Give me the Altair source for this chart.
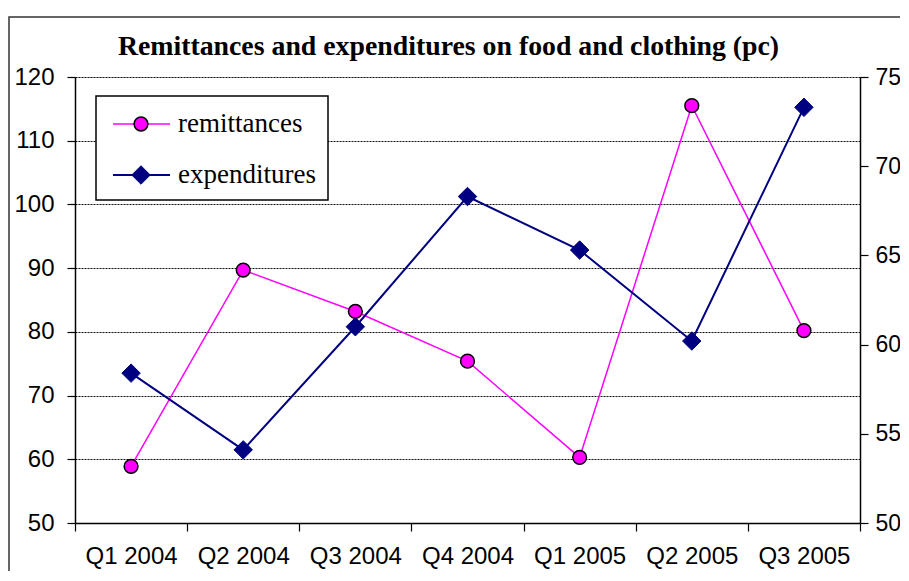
import altair as alt
import pandas as pd

quarters = ["Q1 2004", "Q2 2004", "Q3 2004", "Q4 2004", "Q1 2005", "Q2 2005", "Q3 2005"]
remittances = [58.9, 89.7, 83.2, 75.4, 60.3, 115.5, 80.2]
expenditures = [58.4, 54.1, 61.0, 68.3, 65.3, 60.2, 73.3]
series_names = ["remittances", "expenditures"]
left_ticks = [50, 60, 70, 80, 90, 100, 110, 120]
right_ticks = [50, 55, 60, 65, 70, 75]
title_text = "Remittances and expenditures on food and clothing (pc)"

df = pd.DataFrame({"quarter": quarters, "remittances": remittances, "expenditures": expenditures})
legend_df = pd.DataFrame({"name": series_names})

MAG = "#FF00FF"
NAVY = "#000080"
SANS = "Liberation Sans"
SERIF = "Liberation Serif"

x_enc = alt.X(
    "quarter:N", sort=quarters, title=None,
    scale=alt.Scale(paddingInner=0, paddingOuter=0),
    axis=alt.Axis(labelAngle=0, labelFont=SANS, labelFontSize=24, labelColor="black",
                  labelPadding=13, tickSize=8, tickColor="black", tickWidth=1.2,
                  domainColor="black", domainWidth=1.5, tickBand="extent", grid=False),
)

y_left = alt.Y(
    "remittances:Q", title=None,
    scale=alt.Scale(domain=[50, 120], nice=False, zero=False),
    axis=alt.Axis(values=left_ticks, labelFont=SANS, labelFontSize=24, labelColor="black",
                  labelPadding=13, tickSize=8, tickColor="black", tickWidth=1.2,
                  domainColor="black", domainWidth=1.5, grid=True, gridColor="#111111",
                  gridDash=[2, 1], gridWidth=1),
)

y_right = alt.Y(
    "expenditures:Q", title=None,
    scale=alt.Scale(domain=[50, 75], nice=False, zero=False),
    axis=alt.Axis(values=right_ticks, orient="right", labelFont=SANS, labelFontSize=23,
                  labelColor="black", labelPadding=7, tickSize=8, tickColor="black",
                  tickWidth=1.2, domainColor="black", domainWidth=1.5, grid=False),
)

base = alt.Chart(df)

left_layer = alt.layer(
    base.mark_line(color=MAG, strokeWidth=1.5).encode(x=x_enc, y=y_left),
    base.mark_point(shape="circle", filled=True, fill=MAG, stroke="black", strokeWidth=1.5,
                    size=190, opacity=1).encode(x=x_enc, y=y_left),
)

right_layer = alt.layer(
    base.mark_line(color=NAVY, strokeWidth=2).encode(x=x_enc, y=y_right),
    base.mark_point(shape="diamond", filled=True, fill=NAVY, stroke=NAVY, strokeWidth=1,
                    size=340, opacity=1).encode(x=x_enc, y=y_right),
)

lg = alt.Chart(legend_df)
first = alt.datum.name == series_names[0]
second = alt.datum.name == series_names[1]

legend_box = lg.mark_rect(fill="white", stroke="black", strokeWidth=1.5).encode(
    x=alt.value(21), x2=alt.value(253), y=alt.value(19), y2=alt.value(123)
).transform_filter(first)

legend_rule_r = lg.mark_rule(color=MAG, strokeWidth=1.5).encode(
    x=alt.value(38), x2=alt.value(95), y=alt.value(47)
).transform_filter(first)
legend_pt_r = lg.mark_point(shape="circle", filled=True, fill=MAG, stroke="black",
                            strokeWidth=1.5, size=190, opacity=1).encode(
    x=alt.value(66), y=alt.value(47)
).transform_filter(first)
legend_txt_r = lg.mark_text(font=SERIF, fontSize=27, align="left", baseline="middle",
                            color="black").encode(
    x=alt.value(103), y=alt.value(47), text="name:N"
).transform_filter(first)

legend_rule_e = lg.mark_rule(color=NAVY, strokeWidth=2).encode(
    x=alt.value(38), x2=alt.value(95), y=alt.value(98)
).transform_filter(second)
legend_pt_e = lg.mark_point(shape="diamond", filled=True, fill=NAVY, stroke=NAVY,
                            strokeWidth=1, size=340, opacity=1).encode(
    x=alt.value(66), y=alt.value(98)
).transform_filter(second)
legend_txt_e = lg.mark_text(font=SERIF, fontSize=27, align="left", baseline="middle",
                            color="black").encode(
    x=alt.value(103), y=alt.value(98), text="name:N"
).transform_filter(second)

outer_border = lg.mark_rect(fill=None, stroke="#333333", strokeWidth=1.5).encode(
    x=alt.value(-66), x2=alt.value(900), y=alt.value(-60), y2=alt.value(600)
).transform_filter(first)

title_mark = lg.mark_text(text=title_text, font=SERIF, fontSize=27.8, fontWeight="bold",
                          align="center", baseline="alphabetic", color="black").encode(
    x=alt.value(373.5), y=alt.value(-22)
).transform_filter(first)

legend_layer = alt.layer(outer_border, title_mark, legend_box, legend_rule_r, legend_pt_r,
                         legend_txt_r, legend_rule_e, legend_pt_e, legend_txt_e)

chart = alt.layer(left_layer, right_layer, legend_layer).resolve_scale(
    y="independent"
).properties(
    width=785,
    height=446,
    autosize=alt.AutoSizeParams(type="none"),
    padding={"left": 67, "top": 69, "right": 40, "bottom": 48},
).configure_view(stroke="#808080", strokeWidth=1.5).configure(background="white")

chart.save("out.html", embed_options={"renderer": "svg", "actions": False})
